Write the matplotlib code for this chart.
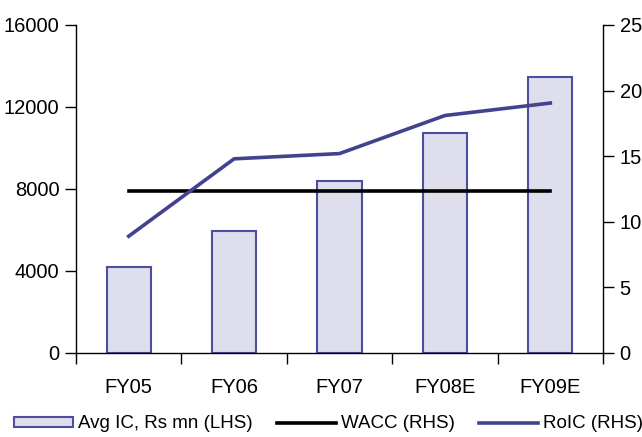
import matplotlib
matplotlib.use("Agg")
import matplotlib.pyplot as plt
import numpy as np
from matplotlib.patches import Patch
from matplotlib.lines import Line2D

categories = ["FY05", "FY06", "FY07", "FY08E", "FY09E"]
avg_ic = [4200, 5950, 8390, 10730, 13460]
wacc = [12.35, 12.35, 12.35, 12.35, 12.35]
roic = [8.9, 14.8, 15.2, 18.1, 19.05]

plt.rcParams['font.family'] = ['Liberation Sans', 'DejaVu Sans']
fs = 14.5
lfs = 13.5

fig = plt.figure(figsize=(6.42, 4.37), dpi=100)
ax = fig.add_axes([76/642, (437-353)/437, (603-76)/642, (353-25)/437])
ax2 = ax.twinx()

x = np.arange(len(categories))
bar_fill = '#DEDEEC'
bar_edge = '#4E4E9E'
line_blue = '#42428F'

ax.bar(x, avg_ic, width=0.42, color=bar_fill, edgecolor=bar_edge, linewidth=1.5, zorder=2)
ax2.plot(x, wacc, color='black', linewidth=2.6, zorder=3)
ax2.plot(x, roic, color=line_blue, linewidth=2.6, zorder=3)

ax.set_xlim(-0.5, len(categories) - 0.5)
ax.set_ylim(0, 16000)
ax2.set_ylim(0, 25)
ax.set_yticks([0, 4000, 8000, 12000, 16000])
ax2.set_yticks([0, 5, 10, 15, 20, 25])

ax.set_xticks(x)
ax.set_xticklabels(categories, fontsize=fs)
ax.set_xticks(np.arange(len(categories) + 1) - 0.5, minor=True)
ax.tick_params(axis='x', which='major', length=0, pad=18)
ax.tick_params(axis='x', which='minor', length=8, direction='out', width=1)
ax.tick_params(axis='y', labelsize=fs, length=8, direction='out', width=1, pad=4)
ax2.tick_params(axis='y', labelsize=fs, length=8, direction='out', width=1, pad=4)

for a in (ax, ax2):
    a.spines['top'].set_visible(False)
    for s in ('left', 'right', 'bottom'):
        a.spines[s].set_linewidth(1)
ax.spines['right'].set_visible(False)
ax2.spines['left'].set_visible(False)
ax2.spines['bottom'].set_visible(False)

handles = [
    Patch(facecolor=bar_fill, edgecolor=bar_edge, linewidth=1.5),
    Line2D([], [], color='black', linewidth=2.6),
    Line2D([], [], color=line_blue, linewidth=2.6),
]
labels = ["Avg IC, Rs mn (LHS)", "WACC (RHS)", "RoIC (RHS)"]
fig.legend(handles, labels, loc='center', bbox_to_anchor=(328.5/642, 1 - 424/437),
           ncol=3, frameon=False, fontsize=lfs, handlelength=3.15, handleheight=0.5,
           handletextpad=0.27, columnspacing=1.28, borderaxespad=0, borderpad=0)

fig.savefig("out.png", dpi=100)
